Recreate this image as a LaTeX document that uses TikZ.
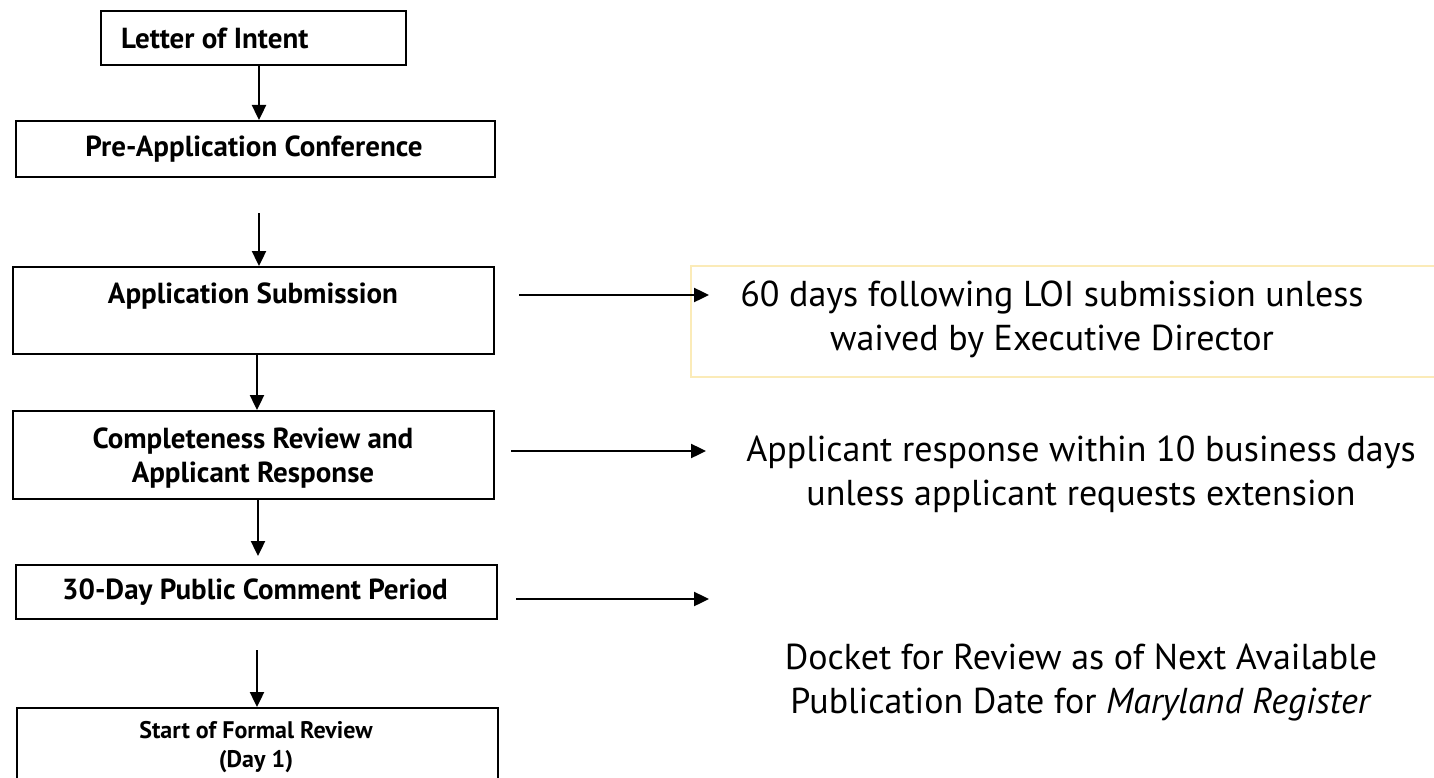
\documentclass[tikz,border=0pt]{standalone}
\usepackage{fontspec}
\setmainfont{PT Sans}
\usetikzlibrary{arrows.meta}
\definecolor{paleyellow}{HTML}{FBEBB8}
\tikzset{
  box/.style={draw=black, line width=2pt, anchor=north west, inner sep=0pt},
  flow/.style={line width=2.4pt, -{Triangle[length=15pt,width=14pt]}},
  lbl/.style={font=\fontsize{29}{34}\selectfont\bfseries, align=center, inner sep=0pt},
  small/.style={font=\fontsize{24}{29}\selectfont\bfseries, align=center, inner sep=0pt},
  note/.style={font=\fontsize{36}{44}\selectfont, align=center, inner sep=0pt}
}
\begin{document}
\begin{tikzpicture}[x=1pt,y=-1pt]
\useasboundingbox (0,0) rectangle (1434,778);
\fill[white] (0,0) rectangle (1434,778);
% boxes
\node[box, minimum width=305pt, minimum height=54pt] (loi) at (100,10) {};
\node[box, minimum width=479pt, minimum height=56pt] (pre) at (15,120) {};
\node[box, minimum width=481pt, minimum height=87pt] (app) at (12,266) {};
\node[box, minimum width=481pt, minimum height=88pt] (comp) at (12,410) {};
\node[box, minimum width=481pt, minimum height=54pt] (pub) at (15,564) {};
\node[box, minimum width=481pt, minimum height=90pt] (start) at (16,707) {};
\node[draw=paleyellow, line width=1.5pt, anchor=north west, minimum width=748pt, minimum height=111pt, inner sep=0pt] (note1) at (690,265) {};
% box texts
\node[lbl, anchor=west] (tloi) at (121,38) {Letter of Intent};
\node[lbl] (tpre) at (254,149) {Pre-Application Conference};
\node[lbl] (tapp) at (253,296) {Application Submission};
\node[lbl] (tcomp) at (253,458) {Completeness Review and\\Applicant Response};
\node[lbl] (tpub) at (255,592) {30-Day Public Comment Period};
\node[small] (tstart) at (256,747) {Start of Formal Review\\(Day 1)};
% notes
\node[note] (n1) at (1052,319) {60 days following LOI submission unless\\waived by Executive Director};
\node[note] (n2) at (1081,474) {Applicant response within 10 business days\\unless applicant requests extension};
\node[note] (n3) at (1081,683) {Docket for Review as of Next Available\\Publication Date for \textit{Maryland Register}};
% free arrow ends
\coordinate (a2s) at (259,213);
\coordinate (a4s) at (258,498);
\coordinate (a5s) at (257,650);
\coordinate (r1s) at (519,295);
\coordinate (r1e) at (709,295);
\coordinate (r2s) at (511,451);
\coordinate (r2e) at (706,451);
\coordinate (r3s) at (516,599);
\coordinate (r3e) at (709,599);
% connectors
\draw[flow] (loi.south -| 259,0) -- (pre.north -| 259,0);
\draw[flow] (a2s) -- (app.north -| a2s);
\draw[flow] (app.south -| 257,0) -- (comp.north -| 257,0);
\draw[flow] (a4s) -- (258,556);
\draw[flow] (a5s) -- (start.north -| a5s);
\draw[flow] (r1s) -- (r1e);
\draw[flow] (r2s) -- (r2e);
\draw[flow] (r3s) -- (r3e);
\end{tikzpicture}
\end{document}
